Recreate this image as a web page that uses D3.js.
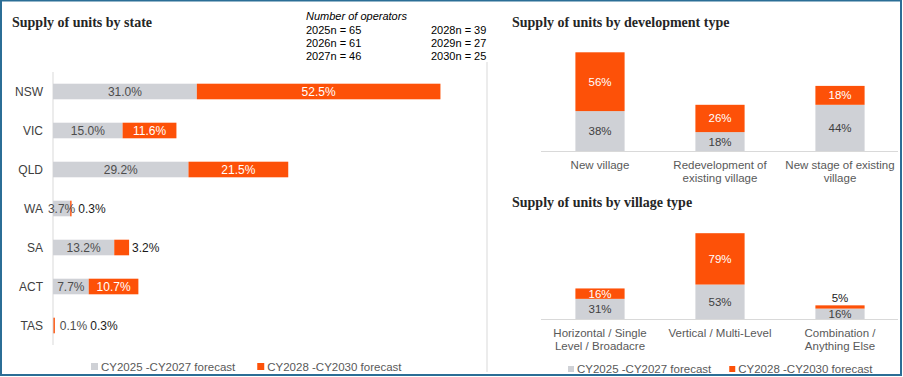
<!DOCTYPE html>
<html>
<head>
<meta charset="utf-8">
<script src="https://cdn.jsdelivr.net/npm/d3@7"></script>
<style>
  body { margin: 0; background: #fff; }
  svg text { font-family: "Liberation Sans", Arial, sans-serif; }
  .title { font-family: "Liberation Serif", "Times New Roman", serif !important; font-weight: bold; font-size: 14px; fill: #262626; }
</style>
</head>
<body>
<div id="chart"></div>
<script>
var width = 903, height = 377;

var grey = "#cfd1d6", orange = "#fd5108";

// series
var seriesNames = ["CY2025 -CY2027 forecast", "CY2028 -CY2030 forecast"];

// by state
var states = ["NSW", "VIC", "QLD", "WA", "SA", "ACT", "TAS"];
var stateEarly = [31.0, 15.0, 29.2, 3.7, 13.2, 7.7, 0.1];
var stateLate = [52.5, 11.6, 21.5, 0.3, 3.2, 10.7, 0.3];

// operators note
var operatorsLeft = ["2025n = 65", "2026n = 61", "2027n = 46"];
var operatorsRight = ["2028n = 39", "2029n = 27", "2030n = 25"];

// by development type
var devTypes = ["New village", "Redevelopment of\nexisting village", "New stage of existing\nvillage"];
var devEarly = [38, 18, 44];
var devLate = [56, 26, 18];

// by village type
var villageTypes = ["Horizontal / Single\nLevel / Broadacre", "Vertical / Multi-Level", "Combination /\nAnything Else"];
var villEarly = [31, 53, 16];
var villLate = [16, 79, 5];

var svg = d3.select("#chart").append("svg")
    .attr("width", width)
    .attr("height", height);

// frame
svg.append("rect")
    .attr("x", 1).attr("y", 0.5)
    .attr("width", width - 3).attr("height", height - 2.5)
    .style("fill", "none")
    .style("stroke", "#2b6e96")
    .style("stroke-width", 2);

// divider
svg.append("line")
    .attr("x1", 487).attr("x2", 487)
    .attr("y1", 62).attr("y2", 372)
    .style("stroke", "#d9d9d9");

var pct1 = d3.format(".1f");

// ---------- Supply of units by state ----------
svg.append("text").attr("class", "title")
    .attr("x", 12).attr("y", 27)
    .text("Supply of units by state");

var note = svg.append("g").style("font-size", "11px").style("fill", "#000");
note.append("text").attr("x", 306).attr("y", 20)
    .style("font-style", "italic").text("Number of operators");
note.selectAll(".opL").data(operatorsLeft).join("text")
    .attr("x", 306).attr("y", (d, i) => 34 + i * 13).text(d => d);
note.selectAll(".opR").data(operatorsRight).join("text")
    .attr("class", "opR")
    .attr("x", 431).attr("y", (d, i) => 34 + i * 13).text(d => d);

var x = d3.scaleLinear().domain([0, 100]).range([53, 517]);
var y = d3.scaleBand().domain(states).range([72, 345]).paddingInner(0.6).paddingOuter(0.3);

var stateRows = states.map((s, i) => ({ name: s, a: stateEarly[i], b: stateLate[i] }));

svg.append("line")
    .attr("x1", x(0)).attr("x2", x(0))
    .attr("y1", 72).attr("y2", 345)
    .style("stroke", "#d9d9d9");

svg.selectAll(".stLabel").data(states).join("text")
    .attr("class", "stLabel")
    .attr("x", 43)
    .attr("y", d => y(d) + y.bandwidth() / 2)
    .attr("dy", "0.35em")
    .attr("text-anchor", "end")
    .style("font-size", "12px")
    .style("fill", "#404040")
    .text(d => d);

var rows = svg.selectAll(".stRow").data(stateRows).join("g").attr("class", "stRow");

rows.append("rect")
    .attr("x", x(0))
    .attr("y", d => y(d.name))
    .attr("width", d => x(d.a) - x(0))
    .attr("height", y.bandwidth())
    .style("fill", grey);

rows.append("rect")
    .attr("x", d => x(d.a))
    .attr("y", d => y(d.name))
    .attr("width", d => Math.max(1.2, x(d.a + d.b) - x(d.a)))
    .attr("height", y.bandwidth())
    .style("fill", orange);

// value labels: inside when there is room, otherwise after the bar
rows.each(function (d) {
    var g = d3.select(this);
    var cy = y(d.name) + y.bandwidth() / 2;
    var stackEnd = x(d.a + d.b);
    var lastEnd = stackEnd;
    var ta = g.append("text")
        .attr("dy", "0.35em")
        .style("font-size", "12px")
        .style("fill", "#4d4d4d")
        .text(pct1(d.a) + "%");
    if (d.a >= 1) {
        ta.attr("x", (x(0) + x(d.a)) / 2).attr("y", cy).attr("text-anchor", "middle");
        var w = ta.node().getComputedTextLength();
        lastEnd = Math.max(stackEnd, (x(0) + x(d.a)) / 2 + w / 2);
    } else {
        ta.attr("x", stackEnd + 5).attr("y", cy);
        lastEnd = stackEnd + 5 + ta.node().getComputedTextLength();
    }
    var tb = g.append("text")
        .attr("dy", "0.35em")
        .attr("y", cy)
        .style("font-size", "12px")
        .text(pct1(d.b) + "%");
    if (x(d.a + d.b) - x(d.a) > 40) {
        tb.attr("x", (x(d.a) + x(d.a + d.b)) / 2).attr("text-anchor", "middle").style("fill", "#fff");
    } else {
        tb.attr("x", lastEnd + 3).style("fill", "#1a1a1a");
    }
});

function legend(lx, ly, gap, size) {
    var items = [[grey, seriesNames[0]], [orange, seriesNames[1]]];
    var lg = svg.append("g").attr("transform", "translate(" + lx + "," + ly + ")");
    var pos = 0;
    items.forEach(function (it, i) {
        lg.append("rect")
            .attr("x", pos).attr("y", -size - 1)
            .attr("width", size).attr("height", size)
            .style("fill", it[0]);
        var t = lg.append("text")
            .attr("x", pos + size + 3).attr("y", 0)
            .style("font-size", "11.5px")
            .style("fill", "#595959")
            .text(it[1]);
        pos += size + 3 + t.node().getComputedTextLength() + gap;
    });
}
legend(91, 371, 22, 7);

// ---------- column charts ----------
function columnChart(title, titleY, cats, early, late, base, pxPerPct) {
    svg.append("text").attr("class", "title")
        .attr("x", 512).attr("y", titleY)
        .text(title);

    var xb = d3.scaleBand().domain(cats).range([540, 900]).paddingInner(0.59).paddingOuter(0.295);
    var yl = d3.scaleLinear().domain([0, 100]).range([base, base - 100 * pxPerPct]);
    var data = cats.map((c, i) => ({ name: c, a: early[i], b: late[i] }));

    var g = svg.append("g");
    var col = g.selectAll("g").data(data).join("g");

    col.append("rect")
        .attr("x", d => xb(d.name))
        .attr("y", d => yl(d.a))
        .attr("width", xb.bandwidth())
        .attr("height", d => yl(0) - yl(d.a))
        .style("fill", grey);
    col.append("rect")
        .attr("x", d => xb(d.name))
        .attr("y", d => yl(d.a + d.b))
        .attr("width", xb.bandwidth())
        .attr("height", d => yl(d.a) - yl(d.a + d.b))
        .style("fill", orange);

    col.append("text")
        .attr("x", d => xb(d.name) + xb.bandwidth() / 2)
        .attr("y", d => (yl(0) + yl(d.a)) / 2)
        .attr("dy", "0.35em")
        .attr("text-anchor", "middle")
        .style("font-size", "11.5px")
        .style("fill", "#404040")
        .text(d => d.a + "%");
    col.append("text")
        .attr("x", d => xb(d.name) + xb.bandwidth() / 2)
        .attr("y", d => (yl(d.a) - yl(d.a + d.b)) > 8 ? (yl(d.a) + yl(d.a + d.b)) / 2 : yl(d.a + d.b) - 7)
        .attr("dy", "0.35em")
        .attr("text-anchor", "middle")
        .style("font-size", "11.5px")
        .style("fill", d => (yl(d.a) - yl(d.a + d.b)) > 8 ? "#fff" : "#1a1a1a")
        .text(d => d.b + "%");

    g.append("line")
        .attr("x1", 541).attr("x2", 898)
        .attr("y1", base + 0.5).attr("y2", base + 0.5)
        .style("stroke", "#d9d9d9");

    col.append("text")
        .attr("text-anchor", "middle")
        .style("font-size", "11.5px")
        .style("fill", "#595959")
        .each(function (d) {
            var t = d3.select(this);
            d.name.split("\n").forEach(function (line, i) {
                t.append("tspan")
                    .attr("x", xb(d.name) + xb.bandwidth() / 2)
                    .attr("y", base + 18 + i * 13)
                    .text(line);
            });
        });
}

columnChart("Supply of units by development type", 27, devTypes, devEarly, devLate, 151, 1.05);
columnChart("Supply of units by village type", 207, villageTypes, villEarly, villLate, 319, 0.65);

legend(568, 373, 18, 6);
</script>
</body>
</html>
